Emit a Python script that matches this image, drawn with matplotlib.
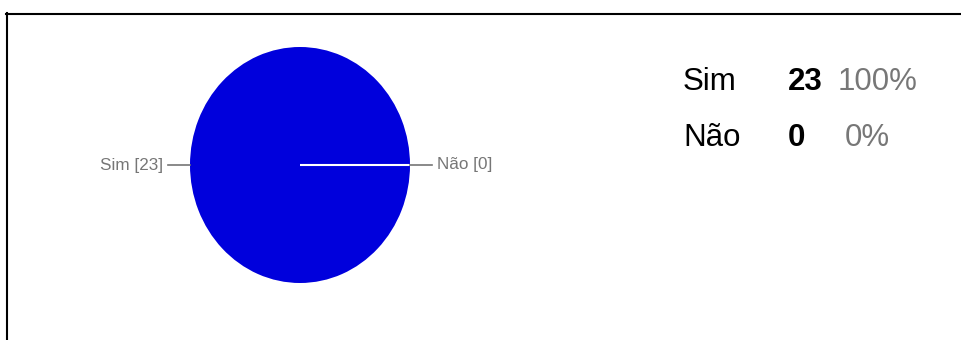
import matplotlib
matplotlib.use("Agg")
import matplotlib.pyplot as plt
from matplotlib.lines import Line2D
import numpy as np

categories = ["Sim", "Não"]
counts = [23, 0]
percent_labels = ["100%", "0%"]

W, H = 961, 340
fig = plt.figure(figsize=(W / 100, H / 100), dpi=100)
fig.patch.set_facecolor("white")

def fx(px):
    return px / W

def fy(py):
    return 1 - py / H

# frame lines (top and left)
fig.add_artist(Line2D([fx(6), fx(961)], [fy(13.5), fy(13.5)], color="black", lw=1.5))
fig.add_artist(Line2D([fx(6.5), fx(6.5)], [fy(13), fy(340)], color="black", lw=1.5))

# pie axes
cx0, cx1, cy0, cy1 = 190, 410, 47, 283
ax = fig.add_axes([fx(cx0), fy(cy1), fx(cx1 - cx0), (cy1 - cy0) / H])
colors = ["#0000DC", "#DC3912"]
wedges, _ = ax.pie(counts, colors=colors, startangle=0, radius=1,
                   wedgeprops=dict(linewidth=0, antialiased=True))
ax.set_aspect("auto")
ax.set_xlim(-1, 1)
ax.set_ylim(-1, 1)
ax.axis("off")

# slice boundary (white)
b = np.deg2rad(wedges[0].theta2)
ax.plot([0, np.cos(b)], [0, np.sin(b)], color="white", lw=1.5, solid_capstyle="butt")

gray = "#767676"
for w, cat, n in zip(wedges, categories, counts):
    mid = np.deg2rad((w.theta1 + w.theta2) / 2)
    c, s = np.cos(mid), np.sin(mid)
    ax.plot([c * 1.0, c * 1.2], [s * 1.0, s * 1.2], color=gray, lw=1.2, clip_on=False)
    ha = "left" if c >= 0 else "right"
    ax.text(c * 1.245, s * 1.245, f"{cat} [{n}]", ha=ha, va="center",
            fontsize=12.3, color=gray, family="Liberation Sans", clip_on=False)

# legend table
baselines = [90, 146]
pct_x = [838, 845]
for cat, n, p, yb, px in zip(categories, counts, percent_labels, baselines, pct_x):
    fig.text(fx(683), fy(yb), cat, ha="left", va="baseline", fontsize=22.5,
             color="black", family="Liberation Sans")
    fig.text(fx(788), fy(yb), str(n), ha="left", va="baseline", fontsize=22.5,
             color="black", fontweight="bold", family="Liberation Sans")
    fig.text(fx(px), fy(yb), p, ha="left", va="baseline", fontsize=22.5,
             color="#777777", family="Liberation Sans")

fig.savefig("out.png", dpi=100, facecolor="white")
